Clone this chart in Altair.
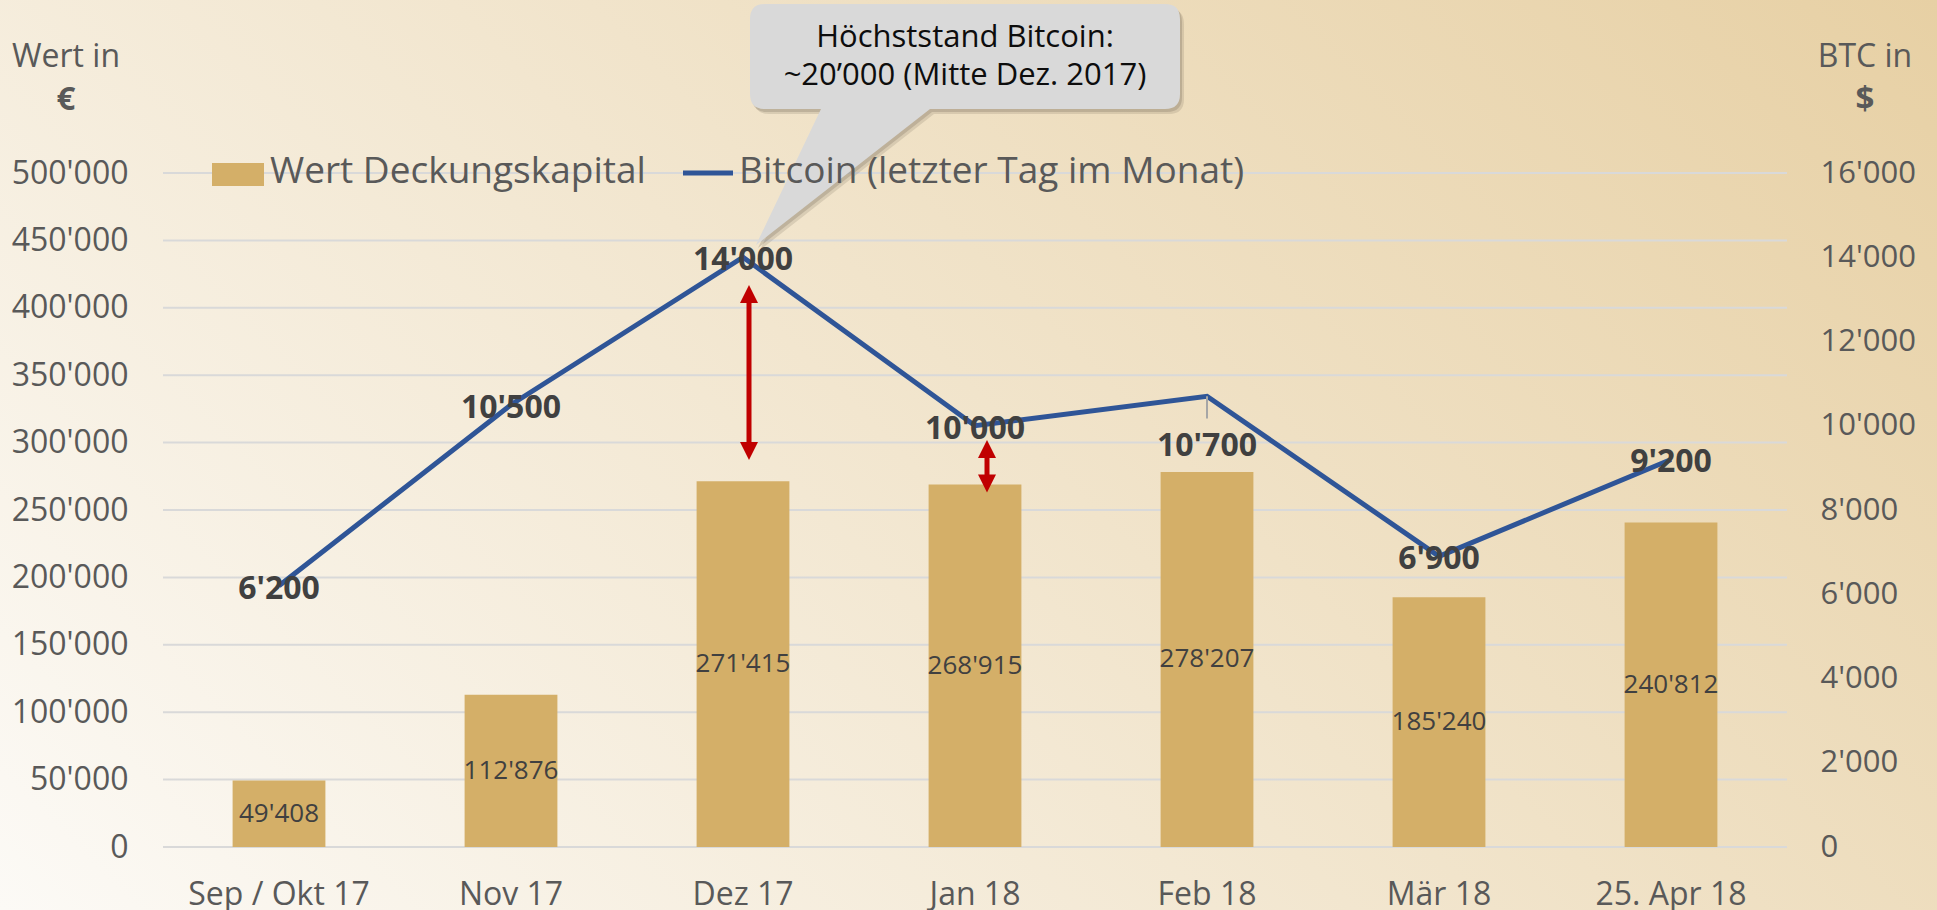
import altair as alt
import pandas as pd

# ---------------- data ----------------
categories = ["Sep / Okt 17", "Nov 17", "Dez 17", "Jan 18", "Feb 18", "Mär 18", "25. Apr 18"]
kapital = [49408, 112876, 271415, 268915, 278207, 185240, 240812]
bitcoin = [6200, 10500, 14000, 10000, 10700, 6900, 9200]
left_ticks = [0, 50000, 100000, 150000, 200000, 250000, 300000, 350000, 400000, 450000, 500000]
right_ticks = [0, 2000, 4000, 6000, 8000, 10000, 12000, 14000, 16000]
arrow_cats = ["Dez 17", "Jan 18"]
arrow_top = [417000, 302000]
arrow_bottom = [287000, 263000]
leader_cat = ["Feb 18"]
leader_top = [10700]
leader_bottom = [10170]
callout_lines = ["Höchststand Bitcoin:", "~20’000 (Mitte Dez. 2017)"]
legend_labels = ["Wert Deckungskapital", "Bitcoin (letzter Tag im Monat)"]


def swiss(v):
    return f"{v:,}".replace(",", "'")


df = pd.DataFrame({"cat": categories, "kapital": kapital, "btc": bitcoin})
df["kap_half"] = df["kapital"] / 2
df["kap_lbl"] = df["kapital"].map(swiss)
df["btc_lbl"] = df["btc"].map(swiss)
grid_df = pd.DataFrame({"g": left_ticks})
arrows_df = pd.DataFrame({"cat": arrow_cats, "top": arrow_top, "bottom": arrow_bottom})
leader_df = pd.DataFrame({"cat": leader_cat, "t": leader_top, "b": leader_bottom})
one = pd.DataFrame({"k": [0]})

# ---------------- styling / layout ----------------
CW, CH = 1937, 910
L, T, R, B = 163, 173, 1787, 847
FONT = "Open Sans"
GRAY = "#595959"
DARK = "#404040"
BAR = "#d4af68"
BLUE = "#2f5597"
RED = "#c00000"
arrow_offsets = [6, 12]

xscale = alt.Scale(domain=categories, range=[L, R], paddingInner=0.6, paddingOuter=0.3)
lscale = alt.Scale(domain=[0, 500000], range=[B, T], nice=False)
rscale = alt.Scale(domain=[0, 16000], range=[B, T], nice=False)

x_axis = alt.Axis(labelAngle=0, labelFontSize=32, labelColor=GRAY, labelFont=FONT,
                  domain=False, ticks=False, labelPadding=32, grid=False, labelLimit=400,
                  offset=-(CH - B), zindex=2)
left_axis = alt.Axis(values=left_ticks, format=",d", labelFontSize=32,
                     labelColor=GRAY, labelFont=FONT, domain=False, ticks=False,
                     labelPadding=35, grid=False, labelLimit=400, offset=-L, zindex=2)
right_axis = alt.Axis(orient="right", values=right_ticks, format=",d", labelFontSize=31,
                      labelColor=GRAY, labelFont=FONT, domain=False, ticks=False,
                      labelPadding=33, grid=False, labelAlign="left", labelLimit=400,
                      offset=-(CW - R), zindex=2)

bg = alt.Chart(one).mark_rect(
    fill=alt.Gradient(
        gradient="linear",
        stops=[
            alt.GradientStop(color="#fcfaf6", offset=0),
            alt.GradientStop(color="#e7d0a4", offset=0.88),
            alt.GradientStop(color="#e3c99a", offset=1),
        ],
        x1=0, y1=1, x2=1.369, y2=0.361,
    )
).encode(x=alt.value(0), x2=alt.value(CW), y=alt.value(0), y2=alt.value(CH))

grid = alt.Chart(grid_df).mark_rule(color="#d9d9d9", strokeWidth=2).encode(
    y=alt.Y("g:Q", scale=lscale, title=None, axis=left_axis),
    x=alt.value(L), x2=alt.value(R),
)

bars = alt.Chart(df).mark_bar(color=BAR).encode(
    x=alt.X("cat:N", sort=categories, scale=xscale, title=None, axis=x_axis),
    y=alt.Y("kapital:Q", scale=lscale, title=None, axis=left_axis),
)

bar_labels = alt.Chart(df).mark_text(font=FONT, fontSize=26, color=DARK, baseline="middle").encode(
    x=alt.X("cat:N", sort=categories, scale=xscale, title=None, axis=x_axis),
    y=alt.Y("kap_half:Q", scale=lscale, title=None, axis=left_axis),
    text="kap_lbl:N",
)

arrow_layers = []
for c, off in zip(arrow_cats, arrow_offsets):
    base = alt.Chart(arrows_df).transform_filter(alt.datum.cat == c)
    shaft = base.transform_calculate(
        ts="datum.top - 8000", bs="datum.bottom + 8000"
    ).mark_rule(color=RED, strokeWidth=5, xOffset=off).encode(
        x=alt.X("cat:N", sort=categories, scale=xscale, title=None, axis=x_axis),
        y=alt.Y("ts:Q", scale=lscale, title=None, axis=left_axis), y2="bs:Q",
    )
    head_up = base.mark_point(shape="M0,0 L-9,18 L9,18 Z", size=4, filled=True, fill=RED,
                              strokeWidth=0, opacity=1, xOffset=off).encode(
        x=alt.X("cat:N", sort=categories, scale=xscale, title=None, axis=x_axis),
        y=alt.Y("top:Q", scale=lscale, title=None, axis=left_axis),
    )
    head_dn = base.mark_point(shape="M0,0 L-9,-18 L9,-18 Z", size=4, filled=True, fill=RED,
                              strokeWidth=0, opacity=1, xOffset=off).encode(
        x=alt.X("cat:N", sort=categories, scale=xscale, title=None, axis=x_axis),
        y=alt.Y("bottom:Q", scale=lscale, title=None, axis=left_axis),
    )
    arrow_layers += [shaft, head_up, head_dn]

# callout (path coordinates relative to the plot's top-left corner)
callout_path = ("M602,-169 L1002,-169 Q1017,-169 1017,-154 L1017,-79 Q1017,-64 1002,-64 "
                "L767,-64 L593,72 L658,-64 L602,-64 Q587,-64 587,-79 L587,-154 Q587,-169 602,-169 Z")
sh1 = alt.Chart(one).mark_point(shape=callout_path, size=4, filled=True, fill="#6e6254",
                                 strokeWidth=0, opacity=0.18).encode(x=alt.value(L + 4), y=alt.value(T + 5))
sh2 = alt.Chart(one).mark_point(shape=callout_path, size=4, filled=True, fill="#6e6254",
                                 strokeWidth=0, opacity=0.25).encode(x=alt.value(L + 2), y=alt.value(T + 3))
body = alt.Chart(one).mark_point(shape=callout_path, size=4, filled=True, fill="#d9d9d9",
                                  strokeWidth=0, opacity=1).encode(x=alt.value(L), y=alt.value(T))
ct1 = alt.Chart(one).mark_text(text=callout_lines[0], font=FONT, fontSize=31, color="#0d0d0d",
                               baseline="middle").encode(x=alt.value(965), y=alt.value(38))
ct2 = alt.Chart(one).mark_text(text=callout_lines[1], font=FONT, fontSize=31, color="#0d0d0d",
                               baseline="middle").encode(x=alt.value(965), y=alt.value(76))

# right axis group
line = alt.Chart(df).mark_line(color=BLUE, strokeWidth=5).encode(
    x=alt.X("cat:N", sort=categories, scale=xscale, title=None, axis=x_axis),
    y=alt.Y("btc:Q", scale=rscale, title=None, axis=right_axis),
)
leader = alt.Chart(leader_df).mark_rule(color="#a6a6a6", strokeWidth=2).encode(
    x=alt.X("cat:N", sort=categories, scale=xscale, title=None, axis=x_axis),
    y=alt.Y("t:Q", scale=rscale, title=None, axis=right_axis), y2="b:Q",
)
line_labels = alt.Chart(df).transform_filter(alt.datum.cat != "Feb 18").mark_text(
    font=FONT, fontSize=32, fontWeight="bold", color=DARK, baseline="middle", dy=3
).encode(
    x=alt.X("cat:N", sort=categories, scale=xscale, title=None, axis=x_axis),
    y=alt.Y("btc:Q", scale=rscale, title=None, axis=right_axis),
    text="btc_lbl:N",
)
line_label_feb = alt.Chart(df).transform_filter(alt.datum.cat == "Feb 18").mark_text(
    font=FONT, fontSize=32, fontWeight="bold", color=DARK, baseline="middle", dy=50
).encode(
    x=alt.X("cat:N", sort=categories, scale=xscale, title=None, axis=x_axis),
    y=alt.Y("btc:Q", scale=rscale, title=None, axis=right_axis),
    text="btc_lbl:N",
)

# legend & axis titles
leg_rect = alt.Chart(one).mark_rect(color=BAR).encode(
    x=alt.value(212), x2=alt.value(264), y=alt.value(163), y2=alt.value(186))
leg_t1 = alt.Chart(one).mark_text(text=legend_labels[0], font=FONT, fontSize=37, color=GRAY,
                                  align="left", baseline="middle").encode(x=alt.value(270), y=alt.value(172))
leg_line = alt.Chart(one).mark_rule(color=BLUE, strokeWidth=5).encode(
    x=alt.value(683), x2=alt.value(733), y=alt.value(173))
leg_t2 = alt.Chart(one).mark_text(text=legend_labels[1], font=FONT, fontSize=37, color=GRAY,
                                  align="left", baseline="middle").encode(x=alt.value(739), y=alt.value(172))
t_l1 = alt.Chart(one).mark_text(text="Wert in", font=FONT, fontSize=32, color=GRAY,
                                baseline="middle").encode(x=alt.value(66), y=alt.value(57))
t_l2 = alt.Chart(one).mark_text(text="€", font=FONT, fontSize=33, fontWeight="bold", color=GRAY,
                                baseline="middle").encode(x=alt.value(66), y=alt.value(100))
t_r1 = alt.Chart(one).mark_text(text="BTC in", font=FONT, fontSize=32, color=GRAY,
                                baseline="middle").encode(x=alt.value(1865), y=alt.value(57))
t_r2 = alt.Chart(one).mark_text(text="$", font=FONT, fontSize=33, fontWeight="bold", color=GRAY,
                                baseline="middle").encode(x=alt.value(1865), y=alt.value(100))

left = alt.layer(bg, grid, bars, bar_labels, *arrow_layers, sh1, sh2, body, ct1, ct2,
                 leg_rect, leg_t1, leg_line, leg_t2, t_l1, t_l2, t_r1, t_r2)
right = alt.layer(line, leader, line_labels, line_label_feb)

chart = alt.layer(left, right).resolve_scale(y="independent").properties(
    width=CW, height=CH,
    autosize=alt.AutoSizeParams(type="none"),
    padding=0,
    background="#f4ead8",
).configure(font=FONT, view=alt.ViewConfig(stroke=None))

chart.save("out.html", embed_options={
    "renderer": "svg", "actions": False,
    "formatLocale": {"decimal": ".", "thousands": "'", "grouping": [3], "currency": ["", ""]},
})
